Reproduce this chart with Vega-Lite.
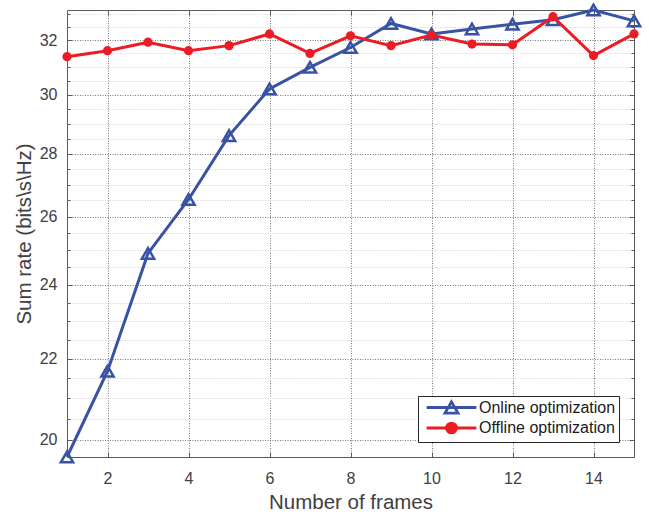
{
  "$schema": "https://vega.github.io/schema/vega-lite/v6.json",
  "autosize": {"type": "none"},
  "width": 567,
  "height": 447,
  "padding": {"left": 67, "top": 10, "right": 15, "bottom": 58},
  "background": "white",
  "config": {
    "view": {"stroke": "#5a5a5a", "strokeWidth": 1},
    "font": "Liberation Sans",
    "axis": {"labelFont": "Liberation Sans", "titleFont": "Liberation Sans", "titleFontWeight": "normal", "labelColor": "#404040", "titleColor": "#404040", "domain": false, "tickColor": "#5a5a5a"},
    "legend": {
      "orient": "bottom-right",
      "offset": 15,
      "padding": 3,
      "strokeColor": "#262626",
      "fillColor": "white",
      "labelFont": "Liberation Sans",
      "labelFontSize": 16,
      "labelColor": "#1a1a1a",
      "symbolSize": 196,
      "symbolStrokeWidth": 2.8,
      "symbolOpacity": 1,
      "symbolOffset": 22,
      "labelOffset": 19,
      "rowPadding": -2.5
    }
  },
  "data": {
    "values": [
      {"frame": 1, "series": "Online optimization", "rate": 19.6},
      {"frame": 2, "series": "Online optimization", "rate": 21.68},
      {"frame": 3, "series": "Online optimization", "rate": 24.9},
      {"frame": 4, "series": "Online optimization", "rate": 26.53},
      {"frame": 5, "series": "Online optimization", "rate": 28.6},
      {"frame": 6, "series": "Online optimization", "rate": 30.21},
      {"frame": 7, "series": "Online optimization", "rate": 30.99},
      {"frame": 8, "series": "Online optimization", "rate": 31.72},
      {"frame": 9, "series": "Online optimization", "rate": 32.63},
      {"frame": 10, "series": "Online optimization", "rate": 32.23},
      {"frame": 11, "series": "Online optimization", "rate": 32.42},
      {"frame": 12, "series": "Online optimization", "rate": 32.6},
      {"frame": 13, "series": "Online optimization", "rate": 32.77},
      {"frame": 14, "series": "Online optimization", "rate": 33.15},
      {"frame": 15, "series": "Online optimization", "rate": 32.73},
      {"frame": 1, "series": "Offline optimization", "rate": 31.38},
      {"frame": 2, "series": "Offline optimization", "rate": 31.6},
      {"frame": 3, "series": "Offline optimization", "rate": 31.92},
      {"frame": 4, "series": "Offline optimization", "rate": 31.6},
      {"frame": 5, "series": "Offline optimization", "rate": 31.79},
      {"frame": 6, "series": "Offline optimization", "rate": 32.23},
      {"frame": 7, "series": "Offline optimization", "rate": 31.5},
      {"frame": 8, "series": "Offline optimization", "rate": 32.16},
      {"frame": 9, "series": "Offline optimization", "rate": 31.79},
      {"frame": 10, "series": "Offline optimization", "rate": 32.19},
      {"frame": 11, "series": "Offline optimization", "rate": 31.85},
      {"frame": 12, "series": "Offline optimization", "rate": 31.82},
      {"frame": 13, "series": "Offline optimization", "rate": 32.89},
      {"frame": 14, "series": "Offline optimization", "rate": 31.42},
      {"frame": 15, "series": "Offline optimization", "rate": 32.23}
    ]
  },
  "resolve": {"axis": {"x": "independent", "y": "independent"}},
  "layer": [
    {
      "encoding": {
        "x": {
          "field": "frame", "type": "quantitative",
          "scale": {"domain": [1, 15], "nice": false, "zero": false},
          "axis": {
            "title": "Number of frames",
            "values": [2, 4, 6, 8, 10, 12, 14],
            "format": "d",
            "labelFontSize": 16,
            "titleFontSize": 20.5,
            "labelPadding": 18,
            "titlePadding": 6,
            "ticks": true,
            "tickSize": -5,
            "grid": true,
            "gridColor": "#777777",
            "gridDash": [1, 1.5],
            "gridWidth": 1
          }
        },
        "y": {
          "field": "rate", "type": "quantitative",
          "scale": {"type": "log", "domain": [19.6, 33.15], "nice": false, "zero": false},
          "axis": {
            "title": "Sum rate (bits\\s\\Hz)",
            "values": [20, 20.5, 21, 21.5, 22, 22.5, 23, 23.5, 24, 24.5, 25, 25.5, 26, 26.5, 27, 27.5, 28, 28.5, 29, 29.5, 30, 30.5, 31, 31.5, 32, 32.5, 33],
            "labelExpr": "datum.value % 2 === 0 ? format(datum.value, 'd') : ''",
            "labelOverlap": false,
            "labelFontSize": 16,
            "titleFontSize": 20.5,
            "labelPadding": 15,
            "titlePadding": 5,
            "ticks": true,
            "tickSize": {"condition": {"test": "datum.value % 2 === 0", "value": -5}, "value": -3},
            "grid": true,
            "gridDash": [1, 1.5],
            "gridWidth": 1,
            "gridColor": {"condition": {"test": "datum.value % 2 === 0", "value": "#777777"}, "value": "#cfcfcf"}
          }
        }
      },
      "layer": [
        {
          "transform": [{"filter": "datum.series === 'Online optimization'"}],
          "mark": {"type": "line", "color": "#3953a4", "strokeWidth": 3},
          "encoding": {}
        },
        {
          "transform": [{"filter": "datum.series === 'Online optimization'"}],
          "mark": {"type": "point", "shape": "triangle-up", "filled": false, "size": 150, "strokeWidth": 2.5, "color": "#3953a4", "opacity": 1},
          "encoding": {}
        },
        {
          "transform": [{"filter": "datum.series === 'Offline optimization'"}],
          "mark": {"type": "line", "color": "#ed1c24", "strokeWidth": 3},
          "encoding": {}
        },
        {
          "transform": [{"filter": "datum.series === 'Offline optimization'"}],
          "mark": {"type": "point", "shape": "circle", "filled": true, "size": 85, "strokeWidth": 1, "color": "#ed1c24", "opacity": 1},
          "encoding": {}
        },
        {
          "mark": {"type": "point", "opacity": 0},
          "encoding": {
            "shape": {
              "field": "series", "type": "nominal",
              "scale": {
                "domain": ["Online optimization", "Offline optimization"],
                "range": ["M-3.55,0H3.55M0,-0.8L0.93,0.8L-0.93,0.8Z", "M-3.55,0H3.55M-0.71,0A0.71,0.71 0 1,0 0.71,0A0.71,0.71 0 1,0 -0.71,0Z"]
              },
              "legend": {"title": null}
            },
            "stroke": {
              "field": "series", "type": "nominal",
              "scale": {"domain": ["Online optimization", "Offline optimization"], "range": ["#3953a4", "#ed1c24"]},
              "legend": {"title": null}
            },
            "fill": {
              "field": "series", "type": "nominal",
              "scale": {"domain": ["Online optimization", "Offline optimization"], "range": ["transparent", "#ed1c24"]},
              "legend": {"title": null}
            }
          }
        }
      ]
    },
    {
      "mark": {"type": "point", "opacity": 0},
      "encoding": {
        "x": {
          "field": "frame", "type": "quantitative",
          "axis": {
            "orient": "top", "title": null, "labels": false, "grid": false,
            "values": [2, 4, 6, 8, 10, 12, 14],
            "ticks": true, "tickSize": -5
          }
        },
        "y": {
          "field": "rate", "type": "quantitative",
          "axis": {
            "orient": "right", "title": null, "labels": false, "grid": false,
            "values": [20, 20.5, 21, 21.5, 22, 22.5, 23, 23.5, 24, 24.5, 25, 25.5, 26, 26.5, 27, 27.5, 28, 28.5, 29, 29.5, 30, 30.5, 31, 31.5, 32, 32.5, 33],
            "ticks": true,
            "tickSize": {"condition": {"test": "datum.value % 2 === 0", "value": -5}, "value": -3}
          }
        }
      }
    }
  ]
}
